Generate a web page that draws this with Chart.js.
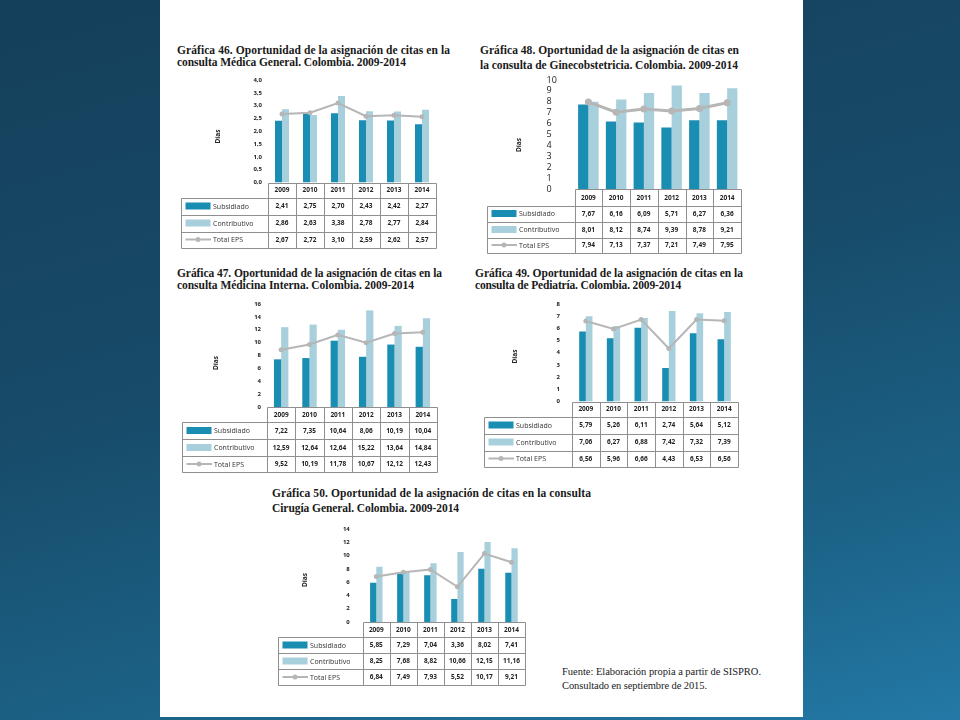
<!DOCTYPE html>
<html>
<head>
<meta charset="utf-8">
<script src="https://cdn.jsdelivr.net/npm/chart.js@4.4.1/dist/chart.umd.min.js"></script>
<style>
html, body { margin: 0; padding: 0; }
body {
    width: 960px; height: 720px; position: relative; overflow: hidden;
    background: linear-gradient(165deg, #153f5a 0%, #174b69 45%, #1c6388 78%, #2379a6 100%);
}
#page { position: absolute; left: 160px; top: 0; width: 643px; height: 717px; background: #fff; }
.t { position: absolute; font-family: "Liberation Serif", serif; font-weight: bold; font-size: 11.5px; line-height: 12px; color: #1a1a1a; white-space: nowrap; }
.fn { position: absolute; font-family: "Liberation Serif", serif; font-size: 10.5px; line-height: 12px; color: #1a1a1a; white-space: nowrap; }
canvas { position: absolute; }
</style>
</head>
<body>
<div id="page"></div>
<script>
// categorias
const years = ['2009', '2010', '2011', '2012', '2013', '2014'];

// Grafica 46 - Medica General
const sub46 = [2.41, 2.75, 2.70, 2.43, 2.42, 2.27];
const con46 = [2.86, 2.63, 3.38, 2.78, 2.77, 2.84];
const tot46 = [2.67, 2.72, 3.10, 2.59, 2.62, 2.57];
const sub46Txt = ['2,41', '2,75', '2,70', '2,43', '2,42', '2,27'];
const con46Txt = ['2,86', '2,63', '3,38', '2,78', '2,77', '2,84'];
const tot46Txt = ['2,67', '2,72', '3,10', '2,59', '2,62', '2,57'];

// Grafica 48 - Ginecobstetricia
const sub48 = [7.75, 6.2, 6.1, 5.65, 6.3, 6.3];
const con48 = [8.0, 8.2, 8.8, 9.5, 8.8, 9.25];
const tot48 = [7.98, 7.05, 7.33, 7.15, 7.38, 7.92];
const sub48Txt = ['7,67', '6,16', '6,09', '5,71', '6,27', '6,36'];
const con48Txt = ['8,01', '8,12', '8,74', '9,39', '8,78', '9,21'];
const tot48Txt = ['7,94', '7,13', '7,37', '7,21', '7,49', '7,95'];

// Grafica 47 - Medicina Interna
const sub47 = [7.4, 7.6, 10.3, 7.8, 9.7, 9.35];
const con47 = [12.4, 12.8, 12.0, 15.0, 12.6, 13.8];
const tot47 = [8.9, 9.7, 11.2, 10.0, 11.4, 11.6];
const sub47Txt = ['7,22', '7,35', '10,64', '8,06', '10,19', '10,04'];
const con47Txt = ['12,59', '12,64', '12,64', '15,22', '13,64', '14,84'];
const tot47Txt = ['9,52', '10,19', '11,78', '10,67', '12,12', '12,43'];

// Grafica 49 - Pediatria
const sub49 = [5.75, 5.2, 6.05, 2.74, 5.6, 5.1];
const con49 = [7.0, 6.2, 6.85, 7.42, 7.25, 7.35];
const tot49 = [6.6, 5.95, 6.72, 4.35, 6.72, 6.62];
const sub49Txt = ['5,79', '5,26', '6,11', '2,74', '5,64', '5,12'];
const con49Txt = ['7,06', '6,27', '6,88', '7,42', '7,32', '7,39'];
const tot49Txt = ['6,56', '5,96', '6,66', '4,43', '6,53', '6,56'];

// Grafica 50 - Cirugia General
const sub50 = [5.9, 7.3, 7.05, 3.45, 8.0, 7.4];
const con50 = [8.3, 7.6, 8.85, 10.55, 12.05, 11.1];
const tot50 = [6.85, 7.5, 7.9, 5.3, 10.3, 9.0];
const sub50Txt = ['5,85', '7,29', '7,04', '3,36', '8,02', '7,41'];
const con50Txt = ['8,25', '7,68', '8,82', '10,66', '12,15', '11,16'];
const tot50Txt = ['6,84', '7,49', '7,93', '5,52', '10,17', '9,21'];

const seriesNames = ['Subsidiado', 'Contributivo', 'Total EPS'];

const OSCURO = '#1a8db2';
const CLARO = '#a8cfdc';
const GRIS = '#b6b6b6';

// titulos: texto, x, y (arriba), ancho
const titulos = [
    ['Gráfica 46. Oportunidad de la asignación de citas en la', 177, 44, 273],
    ['consulta Médica General. Colombia. 2009-2014', 177, 56, 229],
    ['Gráfica 48. Oportunidad de la asignación de citas en', 480, 44, 259],
    ['la consulta de Ginecobstetricia. Colombia. 2009-2014', 480, 59, 258],
    ['Gráfica 47. Oportunidad de la asignación de citas en la', 177, 267, 265],
    ['consulta Médicina Interna. Colombia. 2009-2014', 177, 279, 237],
    ['Gráfica 49. Oportunidad de la asignación de citas en la', 475, 267, 268],
    ['consulta de Pediatría. Colombia. 2009-2014', 475, 279, 206],
    ['Gráfica 50. Oportunidad de la asignación de citas en la consulta', 272, 487, 319],
    ['Cirugía General. Colombia. 2009-2014', 272, 502, 187]
];
const fuente = [
    ['Fuente: Elaboración propia a partir de SISPRO.', 562, 666, 199],
    ['Consultado en septiembre de 2015.', 562, 680, 145]
];

function texto(item, cls) {
    const el = document.createElement('div');
    el.className = cls;
    el.textContent = item[0];
    el.style.left = item[1] + 'px';
    el.style.top = item[2] + 'px';
    document.body.appendChild(el);
    const nat = el.getBoundingClientRect().width;
    el.style.letterSpacing = ((item[3] - nat) / item[0].length) + 'px';
}
titulos.forEach(t => texto(t, 't'));
fuente.forEach(t => texto(t, 'fn'));

const tablePlugin = {
    id: 'tabla',
    afterDraw(chart, args, o) {
        const ctx = chart.ctx, a = chart.chartArea, xs = chart.scales.x, L = o.L;
        const Y = v => v - o.oy;
        const px = v => Math.round(v) + 0.5;
        const izq = L.left - o.ox;
        const half = (a.right - a.left) / years.length / 2;
        const bordes = years.map((_, i) => xs.getPixelForValue(i) - half).concat([a.right]);
        const yTop = Y(L.zero), r = L.rows.map(Y);

        ctx.save();
        ctx.strokeStyle = '#8f8f8f';
        ctx.lineWidth = 1;
        ctx.beginPath();
        ctx.moveTo(px(bordes[0]), px(yTop)); ctx.lineTo(px(a.right), px(yTop));
        r.forEach(y => { ctx.moveTo(px(izq), px(y)); ctx.lineTo(px(a.right), px(y)); });
        bordes.forEach(x => { ctx.moveTo(px(x), px(yTop)); ctx.lineTo(px(x), px(r[3])); });
        ctx.moveTo(px(izq), px(r[0])); ctx.lineTo(px(izq), px(r[3]));
        ctx.stroke();

        ctx.fillStyle = '#222';
        ctx.textAlign = 'center';
        ctx.textBaseline = 'middle';
        ctx.font = 'bold 6.5px "Open Sans"';
        years.forEach((y, i) => ctx.fillText(y, xs.getPixelForValue(i), (yTop + r[0]) / 2 + 0.5));
        o.txt.forEach((fila, j) => fila.forEach((t, i) => {
            ctx.fillText(t, xs.getPixelForValue(i), (r[j] + r[j + 1]) / 2 + 0.5);
        }));

        // leyenda
        const colores = [OSCURO, CLARO];
        seriesNames.forEach((nombre, j) => {
            const my = (r[j] + r[j + 1]) / 2;
            if (j < 2) {
                ctx.fillStyle = colores[j];
                ctx.fillRect(izq + 4.5, my - 3.5, 25, 7);
            } else {
                ctx.strokeStyle = GRIS;
                ctx.lineWidth = 2;
                ctx.beginPath();
                ctx.moveTo(izq + 4.5, my); ctx.lineTo(izq + 30, my);
                ctx.stroke();
                ctx.fillStyle = GRIS;
                ctx.beginPath();
                ctx.arc(izq + 17, my, 2.5, 0, Math.PI * 2);
                ctx.fill();
            }
            ctx.fillStyle = '#333';
            ctx.textAlign = 'left';
            ctx.font = '7px "Open Sans"';
            ctx.fillText(nombre, izq + 32, my + 0.5);
        });

        // titulo eje
        ctx.translate(L.dias[0] - o.ox, Y(L.dias[1]));
        ctx.rotate(-Math.PI / 2);
        ctx.fillStyle = '#222';
        ctx.textAlign = 'center';
        ctx.font = 'bold 6.5px "Open Sans"';
        ctx.fillText('Días', 0, 0);
        ctx.restore();
    }
};

function grafica(L, sub, con, tot, txt) {
    const cv = document.createElement('canvas');
    // margen superior suficiente para la etiqueta y el padding del eje
    const P = Math.ceil(L.tp + L.tick * 0.6) + 2;
    const ox = L.left - 2, oy = L.top - P;
    const w = Math.round(L.colEnd - ox + 2), h = Math.round(L.rows[3] - oy + 3);
    const yLeft = L.far ? L.far - ox : 0;
    cv.width = w; cv.height = h;
    cv.style.left = ox + 'px';
    cv.style.top = oy + 'px';
    document.body.appendChild(cv);

    new Chart(cv, {
        type: 'bar',
        data: {
            labels: years,
            datasets: [
                { type: 'line', label: seriesNames[2], data: tot, borderColor: GRIS, backgroundColor: GRIS,
                  borderWidth: L.lw, pointRadius: L.pr, pointBorderWidth: 0, pointBackgroundColor: GRIS, order: 0 },
                { label: seriesNames[0], data: sub, backgroundColor: OSCURO, categoryPercentage: L.cat, barPercentage: 1, order: 1 },
                { label: seriesNames[1], data: con, backgroundColor: CLARO, categoryPercentage: L.cat, barPercentage: 1, order: 1 }
            ]
        },
        options: {
            responsive: false,
            animation: false,
            layout: { padding: { left: yLeft, right: w - (L.colEnd - ox), top: P, bottom: h - (L.zero - oy) } },
            plugins: { legend: { display: false }, tooltip: { enabled: false }, tabla: { L: L, txt: txt, ox: ox, oy: oy } },
            scales: {
                x: { display: false },
                y: {
                    min: 0, max: L.max,
                    border: { display: false },
                    grid: { display: false, drawTicks: false },
                    ticks: {
                        stepSize: L.step, autoSkip: false, padding: L.tp, color: '#222',
                        crossAlign: L.far ? 'far' : 'near',
                        font: { family: '"Open Sans"', size: L.tick, weight: L.tw },
                        callback: v => v.toFixed(L.dec).replace('.', ',')
                    },
                    afterFit(s) { s.width = L.colStart - ox - yLeft; }
                }
            }
        },
        plugins: [tablePlugin]
    });
}

grafica({ left: 181, colStart: 268, colEnd: 437.5, top: 79.5, zero: 182, rows: [197, 214, 231, 247],
          max: 4, step: 0.5, dec: 1, cat: 0.5, tick: 6, tw: 'bold', tp: 6, lw: 2, pr: 2.5, dias: [218, 136] },
        sub46, con46, tot46, [sub46Txt, con46Txt, tot46Txt]);

grafica({ left: 486.5, colStart: 574, colEnd: 742.5, top: 80, zero: 189, rows: [205.5, 221.5, 237.5, 252.5],
          max: 10, step: 1, dec: 0, cat: 0.74, tick: 9, tw: 'normal', tp: 4, far: 546, lw: 3, pr: 3.5, dias: [519, 145] },
        sub48, con48, tot48, [sub48Txt, con48Txt, tot48Txt]);

grafica({ left: 181.5, colStart: 266.5, colEnd: 438, top: 304, zero: 407, rows: [422, 439, 456, 472],
          max: 16, step: 2, dec: 0, cat: 0.51, tick: 6, tw: 'bold', tp: 6, lw: 2, pr: 2.5, dias: [216, 363] },
        sub47, con47, tot47, [sub47Txt, con47Txt, tot47Txt]);

grafica({ left: 483.5, colStart: 571.5, colEnd: 739.5, top: 303.5, zero: 401, rows: [416, 433, 450, 466],
          max: 8, step: 1, dec: 0, cat: 0.48, tick: 6, tw: 'bold', tp: 12, lw: 2, pr: 2.5, dias: [515, 356] },
        sub49, con49, tot49, [sub49Txt, con49Txt, tot49Txt]);

grafica({ left: 277.5, colStart: 362.3, colEnd: 526, top: 529, zero: 622, rows: [637, 653, 669, 685],
          max: 14, step: 2, dec: 0, cat: 0.46, tick: 6, tw: 'bold', tp: 13, lw: 2, pr: 2.5, dias: [305, 580] },
        sub50, con50, tot50, [sub50Txt, con50Txt, tot50Txt]);
</script>
</body>
</html>
